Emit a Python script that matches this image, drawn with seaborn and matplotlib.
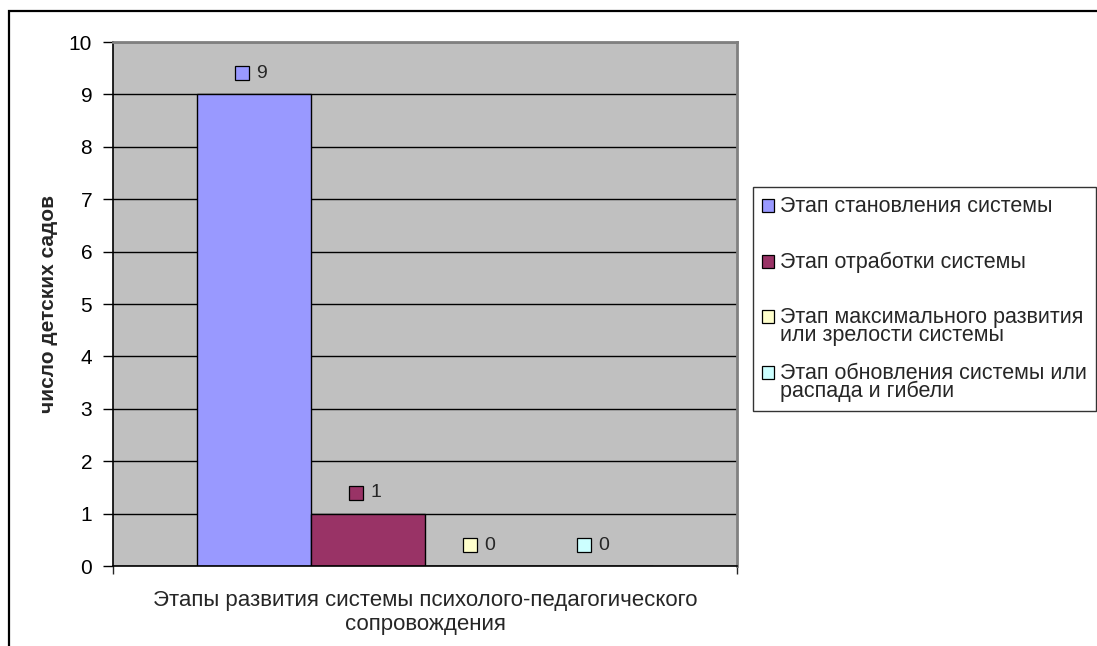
import numpy as np
import pandas as pd
import seaborn as sns
import matplotlib.pyplot as plt
from matplotlib.patches import Patch, Rectangle
from matplotlib.transforms import ScaledTranslation
from matplotlib.legend_handler import HandlerPatch

# Данные
category = "Этапы развития системы психолого-педагогического\nсопровождения"
stages = ["Этап становления системы",
          "Этап отработки системы",
          "Этап максимального развития\nили зрелости системы",
          "Этап обновления системы или\nраспада и гибели"]
counts = [9, 1, 0, 0]
colors = ["#9999FF", "#993366", "#FFFFCC", "#CCFFFF"]
y_ticks = list(range(0, 11))

df = pd.DataFrame({"cat": [category] * len(stages), "stage": stages, "count": counts})

sns.set_style("white")
plt.rcParams['font.family'] = ['Liberation Sans', 'DejaVu Sans']

fig = plt.figure(figsize=(10.97, 6.46), dpi=100)
ax = fig.add_axes([113 / 1097, 1 - 566 / 646, 624 / 1097, 524 / 646])
ax.set_facecolor("#C0C0C0")

sns.barplot(data=df, x="cat", y="count", hue="stage", hue_order=stages,
            palette=colors, saturation=1, width=0.73, edgecolor="black",
            linewidth=1, legend=False, ax=ax)

ax.set_xlim(-0.5, 0.5)
ax.set_ylim(0, 10)
ax.set_yticks(y_ticks)
ax.yaxis.grid(True, color="black", linewidth=1)
ax.set_axisbelow(True)
ax.tick_params(axis="y", direction="out", length=7, width=1, labelsize=15, colors="black", left=True, pad=8)
ax.tick_params(axis="x", which="major", length=0, labelsize=16, pad=17)
ax.set_xticks([-0.5, 0.5], minor=True)
ax.tick_params(axis="x", which="minor", direction="out", length=6, width=1, bottom=True)
for lbl in ax.get_xticklabels():
    lbl.set_linespacing(1.2)
ax.set_xlabel("")
ax.set_ylabel("число детских садов", fontsize=15, fontweight="bold", labelpad=8)

for side in ["left", "bottom"]:
    ax.spines[side].set_color("black")
    ax.spines[side].set_linewidth(1.2)
for side in ["top", "right"]:
    ax.spines[side].set_visible(True)
    ax.spines[side].set_color("#808080")
    ax.spines[side].set_linewidth(2)

# подписи значений с цветным квадратиком
bars = [p for p in ax.patches if isinstance(p, Rectangle)][:len(counts)]
shift = ScaledTranslation(-12 / 100, 0, fig.dpi_scale_trans)
for bar, val, col in zip(bars, counts, colors):
    cx = bar.get_x() + bar.get_width() / 2
    ax.plot(cx, val + 0.4, marker="s", markersize=9.5, markerfacecolor=col,
            markeredgecolor="black", markeredgewidth=0.9, linestyle="none",
            transform=ax.transData + shift)
    ax.annotate(str(val), (cx, val + 0.4), xytext=(1.5, 0), textcoords="offset points",
                ha="left", va="center", fontsize=14)

# легенда: квадратик на уровне первой строки подписи
LINE_PT = 7.5


def first_line_square(legend, orig_handle, xdescent, ydescent, width, height, fontsize):
    return Rectangle((-xdescent, -ydescent + LINE_PT), width, height)


handles = [Patch(facecolor=c, edgecolor="black", linewidth=0.9) for c in colors]
leg_labels = [s if "\n" in s else s + "\n" for s in stages]
leg = fig.legend(handles, leg_labels, loc="upper left", bbox_to_anchor=(753 / 1097, 1 - 187 / 646),
                 fontsize=15.5, frameon=True, fancybox=False, edgecolor="black",
                 handlelength=0.55, handleheight=0.55, handletextpad=0.3,
                 labelspacing=0.76, borderpad=0.42, borderaxespad=0,
                 handler_map={Patch: HandlerPatch(patch_func=first_line_square)})
leg.get_frame().set_linewidth(1)
for t in leg.get_texts():
    t.set_linespacing(0.82)

# рамка вокруг диаграммы
fig.patches.append(Rectangle((9 / 1097, -0.05), 1.2, 1 - 11 / 646 + 0.05,
                             transform=fig.transFigure, fill=False,
                             edgecolor="black", linewidth=1.6))
fig.text(978 / 1097, 1.0 + 0.012, "р", fontsize=16, family="Liberation Serif", va="baseline")

fig.savefig("out.png", dpi=100)
